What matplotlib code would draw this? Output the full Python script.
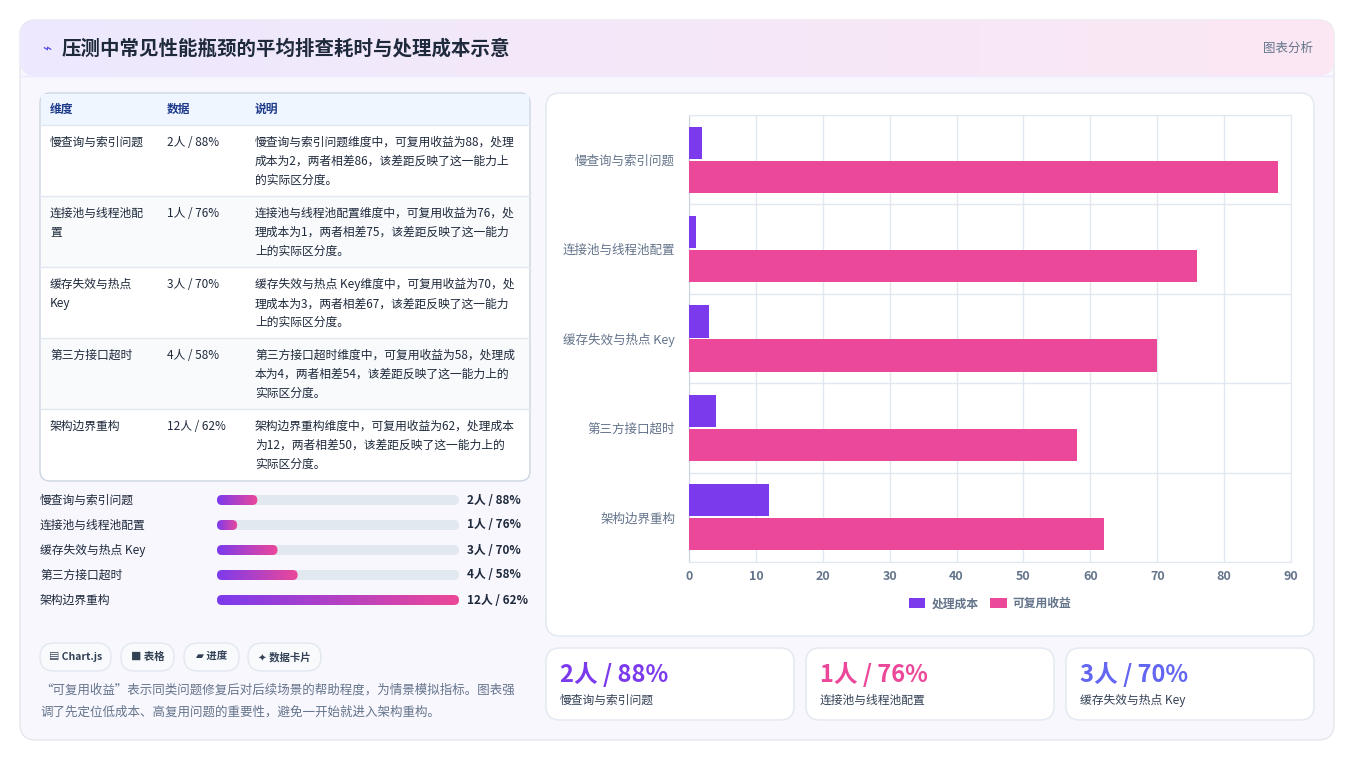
import numpy as np
import matplotlib.pyplot as plt
from matplotlib.patches import FancyBboxPatch
from matplotlib.colors import LinearSegmentedColormap

plt.rcParams['font.family'] = ['Noto Sans CJK SC', 'DejaVu Sans']

categories = ['慢查询与索引问题', '连接池与线程池配置', '缓存失效与热点 Key', '第三方接口超时', '架构边界重构']
cost = [2, 1, 3, 4, 12]
benefit = [88, 76, 70, 58, 62]
notes = [
    '慢查询与索引问题维度中，可复用收益为88，处理\n成本为2，两者相差86，该差距反映了这一能力上\n的实际区分度。',
    '连接池与线程池配置维度中，可复用收益为76，处\n理成本为1，两者相差75，该差距反映了这一能力\n上的实际区分度。',
    '缓存失效与热点 Key维度中，可复用收益为70，处\n理成本为3，两者相差67，该差距反映了这一能力\n上的实际区分度。',
    '第三方接口超时维度中，可复用收益为58，处理成\n本为4，两者相差54，该差距反映了这一能力上的\n实际区分度。',
    '架构边界重构维度中，可复用收益为62，处理成本\n为12，两者相差50，该差距反映了这一能力上的\n实际区分度。',
]
table_names = ['慢查询与索引问题', '连接池与线程池配\n置', '缓存失效与热点\nKey', '第三方接口超时', '架构边界重构']
pills = ['▤ Chart.js', '■ 表格', '▰ 进度', '✦ 数据卡片']

PURPLE = '#7c3aed'
PINK = '#ec4899'
DARK = '#1e293b'
GREY = '#64748b'
grad = LinearSegmentedColormap.from_list('g', [PURPLE, PINK])

W, H = 1354, 761
fig = plt.figure(figsize=(W / 100, H / 100), dpi=100)
fig.patch.set_facecolor('white')
bg = fig.add_axes([0, 0, 1, 1])
bg.set_xlim(0, W)
bg.set_ylim(H, 0)
bg.axis('off')


def box(x0, y0, x1, y1, fc, ec='#e2e8f0', r=10, lw=1, z=1):
    p = FancyBboxPatch((x0, y0), x1 - x0, y1 - y0, boxstyle=f'round,pad=0,rounding_size={r}',
                       fc=fc, ec=ec, lw=lw, zorder=z)
    bg.add_patch(p)
    return p


def gradient(x0, y0, x1, y1, cmap, clip, z=2):
    img = bg.imshow(np.linspace(0, 1, 256)[None, :], cmap=cmap, aspect='auto',
                    extent=(x0, x1, y1, y0), zorder=z)
    img.set_clip_path(clip)


# outer card and header
box(20, 20, 1334, 740, '#f8f7fe', ec='#e5e7eb', r=16)
hdr = box(20, 20, 1334, 76, 'none', ec='none', r=16, z=2)
gradient(20, 20, 1334, 76, LinearSegmentedColormap.from_list('h', ['#ede9fe', '#fce7f3']), hdr)
bg.plot([20, 1334], [76, 76], color='#ede9fe', lw=1, zorder=3)
bg.text(42, 49, '⌁', fontsize=11, color='#4f46e5', va='center', zorder=4)
bg.text(62, 49, '压测中常见性能瓶颈的平均排查耗时与处理成本示意', fontsize=14, weight='bold',
        color=DARK, va='center', zorder=4)
bg.text(1313, 48, '图表分析', fontsize=9, color=GREY, ha='right', va='center', zorder=4)

# table
box(40, 93, 530, 481, '#ffffff', ec='#cbd5e1', r=10)
bg.add_patch(plt.Rectangle((41, 94), 488, 31, fc='#eff6ff', ec='none', zorder=1.5))
for x, t in zip([50, 167, 255], ['维度', '数据', '说明']):
    bg.text(x, 109, t, fontsize=8.5, weight='bold', color='#1e3a8a', va='center', zorder=3)
row_h = 71
for i in range(len(categories)):
    y0 = 125 + i * row_h
    bg.plot([40, 530], [y0, y0], color='#e2e8f0', lw=1, zorder=3)
    if i % 2 == 1:
        bg.add_patch(plt.Rectangle((41, y0), 488, row_h, fc='#f8fafc', ec='none', zorder=1.5))
    bg.text(50, y0 + 11, table_names[i], fontsize=8.5, weight='medium', color=DARK, va='top',
            linespacing=1.6, zorder=3)
    bg.text(167, y0 + 11, f'{cost[i]}人 / {benefit[i]}%', fontsize=8.5, weight='medium', color=DARK,
            va='top', zorder=3)
    bg.text(255, y0 + 11, notes[i], fontsize=8.5, weight='medium', color=DARK, va='top',
            linespacing=1.6, zorder=3)

# progress bars
mx = max(cost)
for i, c in enumerate(categories):
    y = 500 + i * 25
    bg.text(40, y, c, fontsize=8.5, weight='medium', color=DARK, va='center')
    box(217, y - 5, 459, y + 5, '#e2e8f0', ec='none', r=5)
    x1 = 217 + 242 * cost[i] / mx
    clip = box(217, y - 5, x1, y + 5, 'none', ec='none', r=5, z=2)
    gradient(217, y - 5, x1, y + 5, grad, clip, z=2)
    bg.text(467, y, f'{cost[i]}人 / {benefit[i]}%', fontsize=8.5, weight='bold', color=DARK, va='center')

# pills
for (x0, x1), t in zip([(40, 111), (121, 174), (184, 239), (248, 321)], pills):
    box(x0, 643, x1, 671, '#f8fafc', ec='#e2e8f0', r=14)
    bg.text((x0 + x1) / 2, 657, t, fontsize=7.5, weight='bold', color='#334155', ha='center', va='center')
bg.text(40, 690, '“可复用收益”表示同类问题修复后对后续场景的帮助程度，为情景模拟指标。图表强', fontsize=9,
        weight='medium', color=GREY, va='center')
bg.text(40, 712, '调了先定位低成本、高复用问题的重要性，避免一开始就进入架构重构。', fontsize=9,
        weight='medium', color=GREY, va='center')

# chart panel
box(546, 93, 1314, 636, '#ffffff', ec='#e2e8f0', r=14)
ax = fig.add_axes([689 / W, 1 - 562 / H, 602 / W, 447 / H])
ax.set_facecolor('#ffffff')
y = np.arange(len(categories))
ax.barh(y - 0.19, cost, height=0.36, color=PURPLE, label='处理成本', zorder=3)
ax.barh(y + 0.19, benefit, height=0.36, color=PINK, label='可复用收益', zorder=3)
ax.set_yticks(y)
ax.set_yticklabels(categories, fontsize=9, color=GREY)
ax.set_ylim(len(categories) - 0.5, -0.5)
ax.set_xlim(0, 90)
ax.set_xticks(range(0, 91, 10))
ax.tick_params(axis='x', labelsize=9, colors=GREY, length=0, pad=6)
ax.tick_params(axis='y', which='both', length=0, pad=10)
for lab in ax.get_xticklabels():
    lab.set_fontweight('bold')
ax.set_yticks(np.arange(-0.5, len(categories), 1), minor=True)
ax.grid(True, axis='x', color='#e2e8f0', lw=1)
ax.grid(True, axis='y', which='minor', color='#e2e8f0', lw=1)
for s in ax.spines.values():
    s.set_color('#e2e8f0')
ax.spines['left'].set_color('#cbd5e1')
ax.legend(loc='upper center', bbox_to_anchor=(0.5, -0.055), ncol=2, frameon=False, fontsize=8.5,
          handlelength=1.4, handleheight=0.9, columnspacing=1.0, handletextpad=0.5,
          labelcolor=GREY, prop={'weight': 'bold', 'size': 8.5})

# KPI cards
card_colors = [PURPLE, PINK, '#6366f1']
for i, x0 in enumerate([546, 806, 1066]):
    box(x0, 648, x0 + 248, 720, '#ffffff', ec='#e2e8f0', r=14)
    bg.text(x0 + 14, 674, f'{cost[i]}人 / {benefit[i]}%', fontsize=17, weight='bold',
            color=card_colors[i], va='center')
    bg.text(x0 + 14, 700, categories[i], fontsize=8.5, weight='medium', color='#334155', va='center')

fig.savefig('out.png', dpi=100, facecolor=fig.get_facecolor())
